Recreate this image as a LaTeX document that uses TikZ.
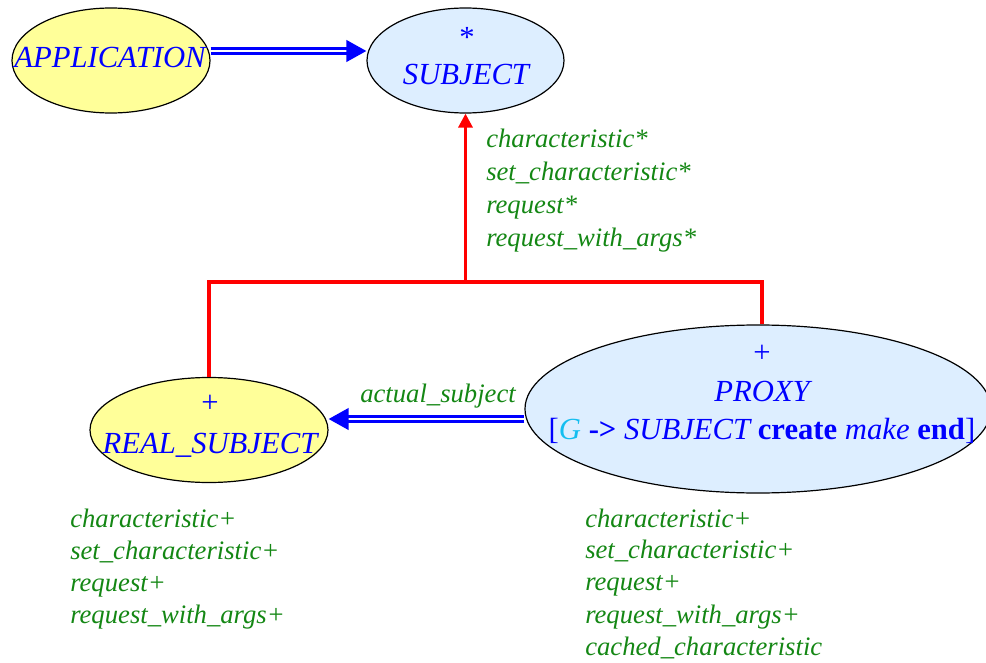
\documentclass[tikz,border=0pt]{standalone}
\usepackage{fontspec}
\setmainfont{Liberation Serif}
\usetikzlibrary{shapes.geometric,arrows.meta,calc}
\definecolor{lblue}{RGB}{221,238,255}
\definecolor{lyel}{RGB}{255,255,153}
\definecolor{fgreen}{RGB}{20,135,20}
\definecolor{tblue}{RGB}{0,0,255}
\definecolor{gcyan}{RGB}{20,190,240}
\begin{document}
\begin{tikzpicture}[x=0.75pt,y=-0.75pt,
  cls/.style={ellipse, draw=black, line width=0.9pt, inner sep=0pt},
  yelcls/.style={cls, fill=lyel},
  blucls/.style={cls, fill=lblue},
  inherit/.style={draw=red, line width=2.4pt},
  inhtip/.style={-{Triangle[length=10.5pt,width=10.5pt]}},
  client/.style={draw=tblue, double=white, line width=2.3pt, double distance=1.2pt,
                 -{Triangle[length=15pt,width=16pt]}},
  bl/.style={text=tblue, font=\fontsize{23}{27}\selectfont\itshape, inner sep=0pt, anchor=base},
  bu/.style={text=tblue, font=\fontsize{23}{27}\selectfont, inner sep=0pt, anchor=base},
  gr/.style={text=fgreen, font=\fontsize{20}{24}\selectfont\itshape, inner sep=0pt, anchor=base west}]
\useasboundingbox (0,0) rectangle (986,663);
% classes
\node[yelcls, minimum width=148.5pt, minimum height=78.75pt] (app) at (111,60.5) {};
\node[blucls, minimum width=147.75pt, minimum height=78.75pt] (sub) at (465.5,60.5) {};
\node[yelcls, minimum width=178.5pt, minimum height=78.75pt] (rs) at (209,430) {};
\node[blucls, minimum width=349.5pt, minimum height=126pt] (px) at (758,409) {};
% inheritance
\coordinate (jm) at (465.5,282);
\coordinate (jl) at (209,282);
\coordinate (jr) at (762,282);
\draw[inherit] (rs.north) -- (jl) -- (jr) -- (jr |- px.north);
\draw[inherit, inhtip] (jm) -- (sub.south);
% client links
\coordinate (ay) at (0,51);
\draw[client] (app.east |- ay) -- (sub.west |- ay);
\coordinate (by) at (0,419);
\draw[client] (px.west |- by) -- (rs.east |- by);
% texts
\node[bl] (tapp) at (110,68) {APPLICATION};
\node[bu] (tsubs) at (467,48) {*};
\node[bl] (tsub) at (466,85) {SUBJECT};
\node[bu] (trsp) at (210,412) {+};
\node[bl] (trs) at (210,453) {REAL\_SUBJECT};
\node[bu] (tpxp) at (762,362) {+};
\node[bl] (tpx) at (762,401) {PROXY};
\node[bl] (tpxg) at (762,439) {{\upshape[}{\color{gcyan}G} {\upshape\bfseries ->} SUBJECT {\upshape\bfseries create} make {\upshape\bfseries end}{\upshape]}};
\node[gr] (lact) at (360,402) {actual\_subject};
% feature lists
\node[gr] (s1) at (486,148) {characteristic*};
\node[gr] (s2) at (486,181) {set\_characteristic*};
\node[gr] (s3) at (486,214) {request*};
\node[gr] (s4) at (486,247) {request\_with\_args*};
\node[gr] (r1) at (70,527) {characteristic+};
\node[gr] (r2) at (70,559) {set\_characteristic+};
\node[gr] (r3) at (70,591) {request+};
\node[gr] (r4) at (70,623) {request\_with\_args+};
\node[gr] (p1) at (585,527) {characteristic+};
\node[gr] (p2) at (585,558) {set\_characteristic+};
\node[gr] (p3) at (585,590) {request+};
\node[gr] (p4) at (585,623) {request\_with\_args+};
\node[gr] (p5) at (585,655) {cached\_characteristic};
\end{tikzpicture}
\end{document}
